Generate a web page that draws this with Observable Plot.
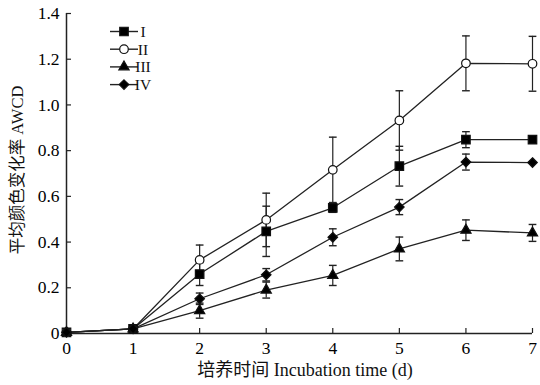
<!DOCTYPE html>
<html>
<head>
<meta charset="utf-8">
<script src="https://cdn.jsdelivr.net/npm/d3@7"></script>
<script src="https://cdn.jsdelivr.net/npm/@observablehq/plot@0.6"></script>
<style>
  html, body { margin: 0; padding: 0; background: #fff; }
  #chart { width: 540px; height: 385px; }
  #chart svg text { font-family: "Liberation Serif", "Noto Sans CJK SC", serif; }
</style>
</head>
<body>
<div id="chart"></div>
<script>
// ---- data ----
const days = [0, 1, 2, 3, 4, 5, 6, 7];
const seriesNames = ["I", "II", "III", "IV"];
const valuesI   = [0.005, 0.02, 0.26, 0.447, 0.55, 0.732, 0.848, 0.848];
const valuesII  = [0.005, 0.02, 0.322, 0.497, 0.716, 0.932, 1.182, 1.18];
const valuesIII = [0.005, 0.02, 0.10, 0.19, 0.254, 0.37, 0.452, 0.44];
const valuesIV  = [0.005, 0.02, 0.152, 0.257, 0.421, 0.553, 0.75, 0.748];
const errI   = [0, 0, 0.05, 0.11, 0.02, 0.087, 0.035, 0];
const errII  = [0, 0, 0.065, 0.117, 0.143, 0.13, 0.12, 0.12];
const errIII = [0, 0, 0.033, 0.035, 0.044, 0.052, 0.045, 0.037];
const errIV  = [0, 0, 0.025, 0.027, 0.037, 0.033, 0.035, 0];
const xTicks = [0, 1, 2, 3, 4, 5, 6, 7];
const yTicks = [0, 0.2, 0.4, 0.6, 0.8, 1.0, 1.2, 1.4];
const xLabel = "培养时间 Incubation time (d)";
const yLabel = "平均颜色变化率 AWCD";

const symbols = {I: "square", II: "circle", III: "triangle", IV: "diamond2"};
const fills = {I: "black", II: "white", III: "black", IV: "black"};
const radii = {I: 4.8, II: 4.3, III: 3.8, IV: 4.3};

const valueSets = [valuesI, valuesII, valuesIII, valuesIV];
const errSets = [errI, errII, errIII, errIV];
const rows = [];
seriesNames.forEach((s, i) => {
  days.forEach((d, j) => {
    rows.push({series: s, day: d, v: valueSets[i][j], e: errSets[i][j]});
  });
});
const errRows = rows.filter(r => r.e > 0);
const capHalf = 0.058;

const fontSerif = "Liberation Serif, Noto Sans CJK SC, serif";

const chart = Plot.plot({
  width: 540,
  height: 385,
  marginLeft: 66,
  marginRight: 8,
  marginTop: 13,
  marginBottom: 52,
  style: {fontFamily: fontSerif, fontSize: "17px", color: "#000", background: "white"},
  x: {domain: [0, 7], label: null},
  y: {domain: [0, 1.4], label: null},
  marks: [
    Plot.axisX({ticks: xTicks, tickSize: 0, tickPadding: 8, tickFormat: d => String(d), label: null, fontSize: 17.5, fontFamily: fontSerif}),
    Plot.axisY({ticks: yTicks, tickSize: 0, tickPadding: 7, tickFormat: d => d === 0 ? "0" : d.toFixed(1), label: null, fontSize: 17.5, fontFamily: fontSerif}),
    // inward ticks
    Plot.ruleY(yTicks.slice(1), {x1: 0, x2: 0.075, stroke: "#222", strokeWidth: 1.2}),
    Plot.ruleX(xTicks.slice(1), {y1: 0, y2: 0.022, stroke: "#222", strokeWidth: 1.2}),
    // axis lines
    Plot.ruleX([0], {stroke: "#222", strokeWidth: 1.5}),
    Plot.ruleY([0], {stroke: "#222", strokeWidth: 1.5}),
    // error bars
    Plot.ruleX(errRows, {x: "day", y1: d => d.v - d.e, y2: d => d.v + d.e, stroke: "#222", strokeWidth: 1.2}),
    Plot.link(errRows, {x1: d => d.day - capHalf, x2: d => d.day + capHalf, y1: d => d.v + d.e, y2: d => d.v + d.e, stroke: "#222", strokeWidth: 1.4}),
    Plot.link(errRows, {x1: d => d.day - capHalf, x2: d => d.day + capHalf, y1: d => d.v - d.e, y2: d => d.v - d.e, stroke: "#222", strokeWidth: 1.4}),
    // lines
    Plot.line(rows, {x: "day", y: "v", z: "series", stroke: "#222", strokeWidth: 1.3}),
    // markers
    ...seriesNames.map(s => Plot.dot(rows.filter(r => r.series === s), {
      x: "day", y: "v", symbol: () => symbols[s], r: radii[s],
      fill: fills[s], stroke: "#111", strokeWidth: 1.2
    }))
  ]
});
document.getElementById("chart").appendChild(chart);

// axis titles and legend
const svg = d3.select(chart);
svg.append("text")
  .attr("x", 305).attr("y", 376)
  .attr("text-anchor", "middle")
  .attr("font-family", fontSerif)
  .attr("font-size", 18)
  .attr("fill", "#111")
  .text(xLabel);
svg.append("text")
  .attr("transform", "translate(23,170) rotate(-90)")
  .attr("text-anchor", "middle")
  .attr("font-family", fontSerif)
  .attr("font-size", 16.5)
  .attr("fill", "#111")
  .text(yLabel);

const symbolTypes = {square: d3.symbolSquare, circle: d3.symbolCircle, triangle: d3.symbolTriangle, diamond2: d3.symbolDiamond2};
const leg = svg.append("g");
seriesNames.forEach((s, i) => {
  const y = 31.5 + i * 17.7;
  leg.append("line").attr("x1", 110).attr("x2", 138).attr("y1", y).attr("y2", y)
    .attr("stroke", "#222").attr("stroke-width", 1.4);
  const r = radii[s];
  leg.append("path")
    .attr("transform", `translate(124,${y})`)
    .attr("d", d3.symbol(symbolTypes[symbols[s]], Math.PI * r * r)())
    .attr("fill", fills[s]).attr("stroke", "#111").attr("stroke-width", 1.2);
  leg.append("text")
    .attr("x", 143).attr("y", y).attr("dy", "0.35em")
    .attr("font-family", fontSerif).attr("font-size", 15.5).attr("fill", "#111")
    .text(s);
});
</script>
</body>
</html>
